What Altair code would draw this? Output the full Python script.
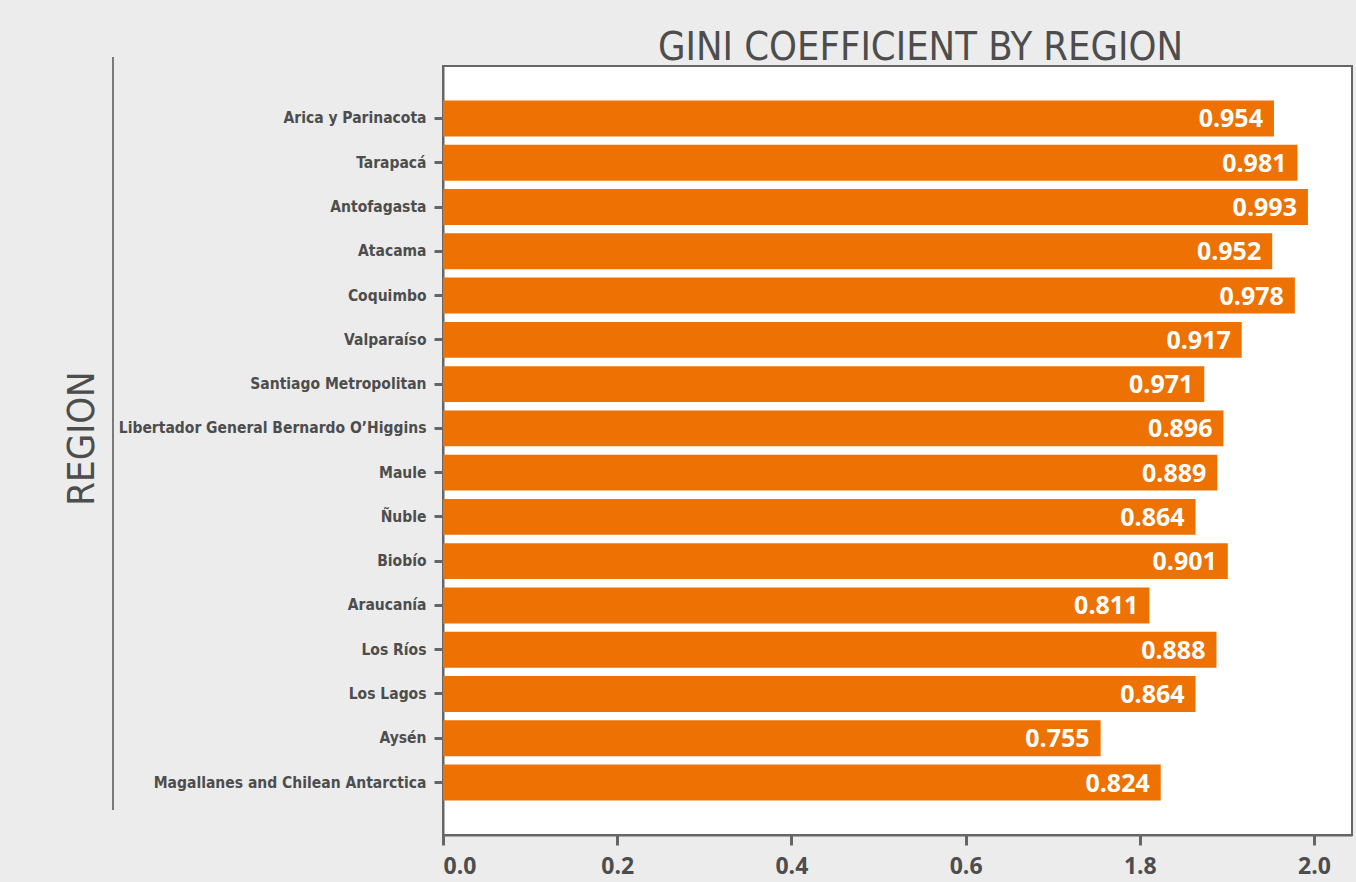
import altair as alt
import pandas as pd

# ---- data ----
regions = [
    "Arica y Parinacota", "Tarapacá", "Antofagasta", "Atacama", "Coquimbo",
    "Valparaíso", "Santiago Metropolitan", "Libertador General Bernardo O’Higgins",
    "Maule", "Ñuble", "Biobío", "Araucanía", "Los Ríos", "Los Lagos", "Aysén",
    "Magallanes and Chilean Antarctica",
]
# bar lengths as drawn
bar_values = [0.954, 0.981, 0.993, 0.952, 0.978, 0.917, 0.874, 0.896,
              0.889, 0.864, 0.901, 0.811, 0.888, 0.864, 0.755, 0.824]
# labels printed in the bars
value_labels = ["0.954", "0.981", "0.993", "0.952", "0.978", "0.917", "0.971", "0.896",
                "0.889", "0.864", "0.901", "0.811", "0.888", "0.864", "0.755", "0.824"]
tick_values = [0.0, 0.2, 0.4, 0.6, 0.8, 1.0]
tick_labels = ["0.0", "0.2", "0.4", "0.6", "1.8", "2.0"]

ORANGE = "#ED7203"
TEXT = "#4d4d4d"
LINE = "#666666"
NARROW = "DejaVu Sans Condensed, sans-serif"
BOLD = "Open Sans, DejaVu Sans, sans-serif"

df = pd.DataFrame({"region": regions, "bar": bar_values, "label": value_labels})

label_expr = "[" + ",".join("'%s'" % t for t in tick_labels) + "][round(datum.value*5)]"

y_enc = alt.Y(
    "region:N", sort=regions,
    scale=alt.Scale(paddingInner=0.19, paddingOuter=0.78),
    axis=alt.Axis(
        title="REGION", titleFont=NARROW, titleFontSize=38, titleFontWeight="normal",
        titleColor=TEXT, titleAngle=270, titleX=-350, titleY=372,
        titleAlign="center", titleBaseline="alphabetic",
        labelFont=NARROW, labelFontSize=15.5, labelFontWeight="bold", labelColor=TEXT,
        labelPadding=8, labelLimit=0, tickSize=9, tickWidth=3, tickColor=LINE,
        domainColor=LINE, domainWidth=2, grid=False,
    ),
)
x_enc = alt.X(
    "bar:Q",
    scale=alt.Scale(domain=[0, 1.0436], nice=False, zero=True),
    axis=alt.Axis(
        values=tick_values, labelExpr=label_expr, title=None, grid=False,
        labelFont=BOLD, labelFontSize=23, labelFontWeight="bold", labelColor=TEXT,
        labelPadding=10, tickSize=10, tickWidth=3, tickColor=LINE,
        domainColor=LINE, domainWidth=2,
    ),
)

bars = alt.Chart(df).mark_bar(color=ORANGE).encode(y=y_enc, x=x_enc)
texts = alt.Chart(df).mark_text(
    align="right", baseline="middle", dx=-11, dy=1, color="white",
    font=BOLD, fontSize=25, fontWeight="bold",
).encode(y=alt.Y("region:N", sort=regions), x="bar:Q", text="label:N")

deco = alt.Chart(pd.DataFrame({"d": [0]})).mark_rule(color="#555555", strokeWidth=1.5).encode(
    x=alt.value(-330), y=alt.value(-9), y2=alt.value(744)
)

chart = alt.layer(bars, texts, deco).properties(
    width=909, height=769,
    title=alt.TitleParams(
        "GINI COEFFICIENT BY REGION", font=NARROW, fontSize=39.5, fontWeight="normal",
        color=TEXT, anchor="middle", frame="group", dx=23, offset=-43, baseline="alphabetic",
    ),
    autosize=alt.AutoSizeParams(type="none"),
    padding={"left": 443, "top": 66, "right": 4, "bottom": 47},
    background="#ececec",
).configure_view(stroke=LINE, strokeWidth=2, fill="white")

chart.save("out.html", embed_options={"renderer": "svg", "actions": False})
